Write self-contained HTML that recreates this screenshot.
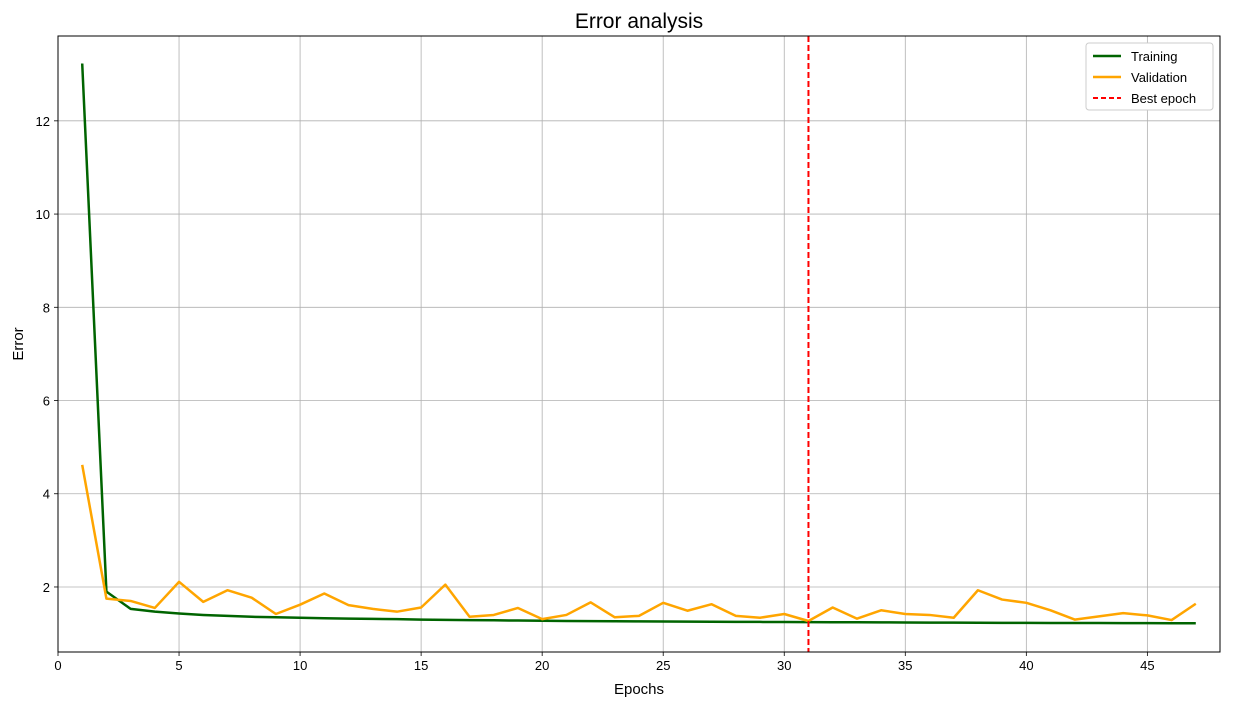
<!DOCTYPE html>
<html><head><meta charset="utf-8"><style>
html,body{margin:0;padding:0;background:#fff;}
svg{display:block;font-family:"Liberation Sans","DejaVu Sans",sans-serif;}
</style></head><body>
<svg id="chart" width="1233" height="706"></svg>
<script>
const epochs = Array.from({length:47},(_,i)=>i+1);
const training = [13.23,1.90,1.53,1.47,1.43,1.40,1.38,1.36,1.35,1.34,1.33,1.32,1.315,1.31,1.30,1.295,1.29,1.285,1.28,1.275,1.27,1.268,1.265,1.262,1.26,1.257,1.255,1.252,1.25,1.248,1.246,1.244,1.242,1.24,1.238,1.236,1.234,1.232,1.23,1.229,1.228,1.227,1.226,1.225,1.224,1.223,1.222];
const validation = [4.62,1.75,1.70,1.55,2.11,1.68,1.93,1.77,1.42,1.62,1.86,1.61,1.53,1.47,1.56,2.05,1.36,1.40,1.55,1.31,1.40,1.67,1.35,1.38,1.66,1.49,1.63,1.38,1.34,1.42,1.27,1.56,1.32,1.50,1.42,1.40,1.34,1.93,1.73,1.66,1.50,1.30,1.37,1.44,1.39,1.29,1.64];
const bestEpoch = 31;
const xTicks = [0,5,10,15,20,25,30,35,40,45];
const yTicks = [2,4,6,8,10,12];

const NS="http://www.w3.org/2000/svg";
const svg=document.getElementById('chart');
const L=58,R=1220,T=36,B=652;
const xMin=0,xMax=48,yMin=0.605,yMax=13.82;
const X=v=>L+(v-xMin)/(xMax-xMin)*(R-L);
const Y=v=>B-(v-yMin)/(yMax-yMin)*(B-T);
function el(tag,attrs,parent){const e=document.createElementNS(NS,tag);for(const k in attrs)e.setAttribute(k,attrs[k]);(parent||svg).appendChild(e);return e;}

const grid=el('g',{});


xTicks.forEach(t=>{
  const l=el('line',{x1:X(t),x2:X(t),y1:T,y2:B,stroke:'#b0b0b0','stroke-width':0.8},grid);
  
  
  const tk=el('line',{x1:X(t),x2:X(t),y1:B,y2:B+4,stroke:'#000','stroke-width':0.8});
  
  
  const tx=el('text',{x:X(t),y:B+18,'text-anchor':'middle','font-size':13,fill:'#000'});
  tx.textContent=t;
  
  
});
yTicks.forEach(t=>{
  const l=el('line',{x1:L,x2:R,y1:Y(t),y2:Y(t),stroke:'#b0b0b0','stroke-width':0.8},grid);
  
  
  const tk=el('line',{x1:L-4,x2:L,y1:Y(t),y2:Y(t),stroke:'#000','stroke-width':0.8});
  
  
  const tx=el('text',{x:L-8,y:Y(t)+5,'text-anchor':'end','font-size':13,fill:'#000'});
  tx.textContent=t;
  
  
});

const pts=a=>a.map((v,i)=>X(epochs[i])+','+Y(v)).join(' ');
const tr=el('polyline',{points:pts(training),fill:'none',stroke:'#006400','stroke-width':2.5,'stroke-linejoin':'round'});


const va=el('polyline',{points:pts(validation),fill:'none',stroke:'#ffa500','stroke-width':2.5,'stroke-linejoin':'round'});


const be=el('line',{x1:X(bestEpoch),x2:X(bestEpoch),y1:T,y2:B,stroke:'#ff0000','stroke-width':2,'stroke-dasharray':'6,3'});



const frame=el('rect',{x:L,y:T,width:R-L,height:B-T,fill:'none',stroke:'#000','stroke-width':1});



const title=el('text',{x:(L+R)/2,y:28,'text-anchor':'middle','font-size':21,fill:'#000'});
title.textContent='Error analysis';


const xl=el('text',{x:(L+R)/2,y:694,'text-anchor':'middle','font-size':15,fill:'#000'});
xl.textContent='Epochs';


const yl=el('text',{x:23,y:(T+B)/2,'text-anchor':'middle','font-size':15,fill:'#000',transform:'rotate(-90 23 '+((T+B)/2)+')'});
yl.textContent='Error';



const lg=el('g',{});


el('rect',{x:1086,y:43,width:127,height:67,rx:3,fill:'#fff',stroke:'#ccc','stroke-width':1},lg);
const items=[['Training','#006400',''],['Validation','#ffa500',''],['Best epoch','#ff0000','5,3']];
items.forEach((it,i)=>{
  const y=56+i*21;
  const g=el('g',{},lg);
  
  
  el('line',{x1:1093,x2:1121,y1:y,y2:y,stroke:it[1],'stroke-width':it[2]?2:2.5,'stroke-dasharray':it[2]||'none'},g);
  const t=el('text',{x:1131,y:y+5,'font-size':13,fill:'#000'},g);
  t.textContent=it[0];
});
</script>
</body></html>
